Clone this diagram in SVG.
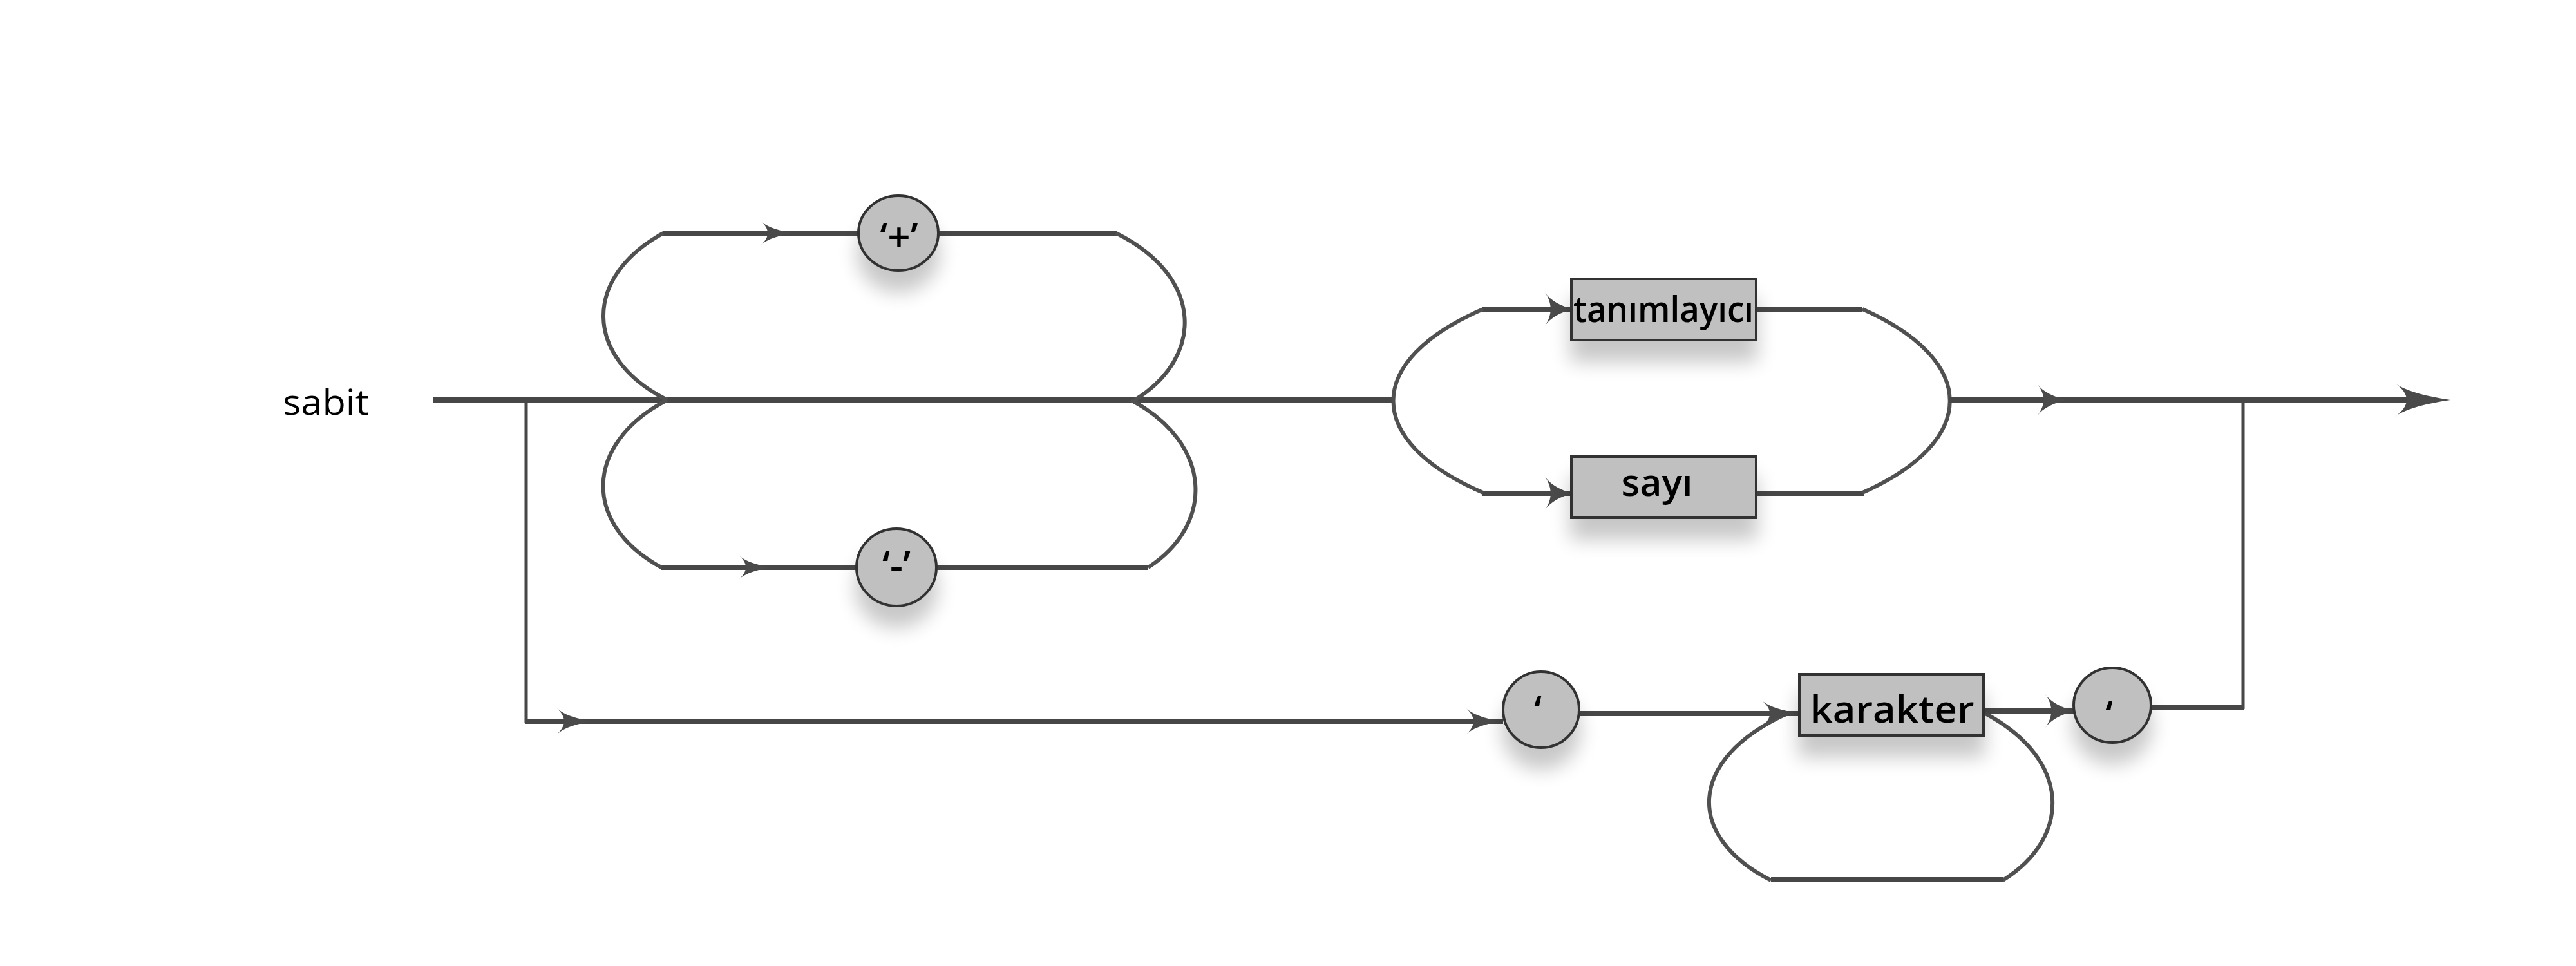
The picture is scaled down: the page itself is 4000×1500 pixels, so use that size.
<svg xmlns="http://www.w3.org/2000/svg" xmlns:xlink="http://www.w3.org/1999/xlink" width="4000" height="1500" viewBox="0 0 4000 1500">
<style>
.ln{fill:none;stroke:#474747;stroke-width:8}
.thin{fill:none;stroke:#474747;stroke-width:5}
.arc{fill:none;stroke:#505050;stroke-width:6}
.nd{fill:#c0c0c0;stroke:#333;stroke-width:4}
.tx{font-family:"Open Sans","Noto Sans",sans-serif;fill:#000}
.b{font-weight:600}
.ah{fill:#4a4a4a}
</style>
<defs>
<filter id="sh" x="-50%" y="-50%" width="200%" height="220%">
<feGaussianBlur in="SourceAlpha" stdDeviation="15"/>
<feOffset dy="32" result="b"/>
<feComponentTransfer><feFuncA type="linear" slope="0.22"/></feComponentTransfer>
<feMerge><feMergeNode/><feMergeNode in="SourceGraphic"/></feMerge>
</filter>
<path id="ah" d="M0,0 C-0.4,-0.2 -0.8,-0.5 -1,-1 C-0.72,-0.35 -0.72,0.35 -1,1 C-0.8,0.5 -0.4,0.2 0,0 Z"/>
</defs>
<rect width="4000" height="1500" fill="#fff"/>
<g id="connectors">
<line class="ln" x1="673" y1="621" x2="2165" y2="621"/>
<line class="thin" x1="817" y1="619" x2="817" y2="1123"/>
<line class="ln" x1="815" y1="1120" x2="2334" y2="1120"/>
<line class="ln" x1="1030" y1="362" x2="1735" y2="362"/>
<line class="ln" x1="1027" y1="881" x2="1783" y2="881"/>
<path class="arc" d="M1030,362 C905,430 905,555 1036,621"/>
<path class="arc" d="M1733,362 C1870,430 1870,555 1762,621"/>
<path class="arc" d="M1036,621 C905,690 905,815 1027,881"/>
<path class="arc" d="M1756,621 C1885,690 1885,815 1783,881"/>
<line class="ln" x1="2301" y1="480" x2="2892" y2="480" stroke="#333"/>
<line class="ln" x1="2301" y1="766" x2="2894" y2="766" stroke="#333"/>
<path class="arc" d="M2303,480 C2117,560 2117,685 2303,765"/>
<path class="arc" d="M2892,480 C3073,560 3073,685 2892,765"/>
<line class="ln" x1="3026" y1="621" x2="3760" y2="621"/>
<line class="thin" x1="3483" y1="619" x2="3483" y2="1101"/>
<line class="ln" x1="2450" y1="1108" x2="2794" y2="1108"/>
<line class="ln" x1="3080" y1="1104" x2="3220" y2="1104"/>
<line class="ln" x1="3338" y1="1099" x2="3485" y2="1099"/>
<path class="arc" d="M2775,1108 C2618,1180 2618,1300 2750,1367"/>
<path class="arc" d="M3083,1108 C3217,1180 3217,1300 3110,1367"/>
<line class="ln" x1="2750" y1="1366" x2="3110" y2="1366"/>
<use href="#ah" class="ah" transform="translate(1230,362) scale(48,18)"/>
<use href="#ah" class="ah" transform="translate(1196,881) scale(48,18)"/>
<use href="#ah" class="ah" transform="translate(917,1120) scale(52,20)"/>
<use href="#ah" class="ah" transform="translate(2329,1120) scale(52,20)"/>
<use href="#ah" class="ah" transform="translate(2441,480) scale(42,26)"/>
<use href="#ah" class="ah" transform="translate(2441,766) scale(42,26)"/>
<use href="#ah" class="ah" transform="translate(2794,1108) scale(58,20)"/>
<use href="#ah" class="ah" transform="translate(3220,1104) scale(44,26)"/>
<use href="#ah" class="ah" transform="translate(3208,621) scale(44,24)"/>
<use href="#ah" class="ah" transform="translate(3805,621) scale(86,26)"/>
</g>
<g id="label-sabit">
<text class="tx" x="439" y="644" font-size="54" font-weight="500" textLength="134" lengthAdjust="spacingAndGlyphs">sabit</text>
</g>
<g id="node-plus" filter="url(#sh)">
<ellipse class="nd" cx="1395" cy="362" rx="62" ry="58"/>
<text class="tx b" x="1396" y="390" font-size="62" text-anchor="middle">‘+’</text>
</g>
<g id="node-minus" filter="url(#sh)">
<ellipse class="nd" cx="1392" cy="881" rx="62" ry="60"/>
<text class="tx b" x="1392" y="900" font-size="62" text-anchor="middle">‘-’</text>
</g>
<g id="node-tanimlayici" filter="url(#sh)">
<rect class="nd" x="2440" y="433" width="287" height="95"/>
<text class="tx b" x="2583" y="500" font-size="56" text-anchor="middle" textLength="280" lengthAdjust="spacingAndGlyphs">tanımlayıcı</text>
</g>
<g id="node-sayi" filter="url(#sh)">
<rect class="nd" x="2440" y="709" width="287" height="95"/>
<text class="tx b" x="2573" y="770" font-size="58" text-anchor="middle" textLength="111" lengthAdjust="spacingAndGlyphs">sayı</text>
</g>
<g id="node-quote1" filter="url(#sh)">
<ellipse class="nd" cx="2393" cy="1102" rx="59" ry="59"/>
<text class="tx b" x="2388" y="1125" font-size="62" text-anchor="middle">‘</text>
</g>
<g id="node-karakter" filter="url(#sh)">
<rect class="nd" x="2794" y="1047" width="286" height="95"/>
<text class="tx b" x="2938" y="1122" font-size="58" text-anchor="middle" textLength="255" lengthAdjust="spacingAndGlyphs">karakter</text>
</g>
<g id="node-quote2" filter="url(#sh)">
<ellipse class="nd" cx="3280" cy="1095" rx="60" ry="58"/>
<text class="tx b" x="3275" y="1132" font-size="62" text-anchor="middle">‘</text>
</g>
</svg>
